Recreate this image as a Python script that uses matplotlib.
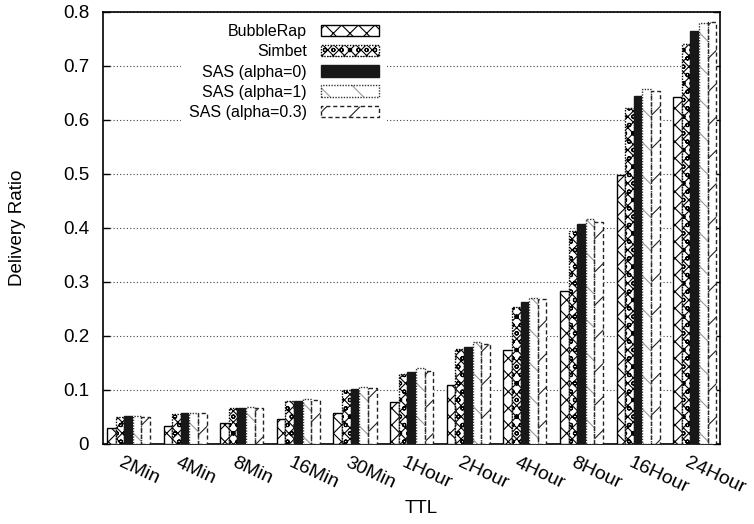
import numpy as np
import matplotlib.pyplot as plt
from matplotlib.transforms import ScaledTranslation

plt.rcParams['font.family'] = ['Liberation Sans', 'DejaVu Sans']
plt.rcParams['hatch.linewidth'] = 0.8

### data
ttl = ['2Min', '4Min', '8Min', '16Min', '30Min', '1Hour',
       '2Hour', '4Hour', '8Hour', '16Hour', '24Hour']
bubblerap = [0.030, 0.033, 0.038, 0.046, 0.058, 0.078, 0.110, 0.174, 0.283, 0.498, 0.642]
simbet    = [0.050, 0.056, 0.066, 0.080, 0.100, 0.130, 0.176, 0.253, 0.394, 0.623, 0.741]
sas_a0    = [0.052, 0.058, 0.067, 0.080, 0.101, 0.134, 0.180, 0.263, 0.407, 0.644, 0.765]
sas_a1    = [0.052, 0.058, 0.069, 0.084, 0.105, 0.140, 0.189, 0.271, 0.416, 0.657, 0.780]
sas_a03   = [0.050, 0.057, 0.066, 0.081, 0.103, 0.136, 0.186, 0.268, 0.412, 0.654, 0.781]

x = np.arange(len(ttl))
w = 0.152

fig = plt.figure(figsize=(7.54, 5.24), dpi=100)
ax = fig.add_axes([0.1366, 0.1527, 0.8186, 0.8244])

b1 = ax.bar(x - 2*w, bubblerap, w, facecolor='white', edgecolor='black',
            hatch='xx', lw=1.0, zorder=3)
b2 = ax.bar(x - w, simbet, w, facecolor='white', edgecolor='black',
            hatch='xxxoo', lw=1.0, linestyle=(0, (1, 1)), zorder=3)
b3 = ax.bar(x, sas_a0, w, facecolor='#181818', edgecolor='#181818',
            lw=1.0, zorder=3)
# gray hatch underneath, dotted dark edge on top
b4a = ax.bar(x + w, sas_a1, w, facecolor='white', edgecolor='#999999',
             hatch='\\', lw=0, zorder=3)
b4b = ax.bar(x + w, sas_a1, w, facecolor='none', edgecolor='#333333',
             lw=1.0, linestyle=(0, (1, 1)), zorder=4)
b5 = ax.bar(x + 2*w, sas_a03, w, facecolor='white', edgecolor='#222222',
            hatch='/', lw=1.0, linestyle=(0, (3, 2)), zorder=3)

ax.set_xlim(-0.45, 10.45)
ax.set_ylim(0, 0.8)
ax.set_yticks(np.arange(0, 0.81, 0.1))
ax.set_yticklabels(['0', '0.1', '0.2', '0.3', '0.4', '0.5', '0.6', '0.7', '0.8'])
ax.yaxis.grid(True, linestyle=(0, (1, 2)), color='#444444', lw=0.8)
ax.set_axisbelow(True)

for s in ax.spines.values():
    s.set_linewidth(1.2)

ax.tick_params(axis='y', direction='in', right=True, length=5, width=1.0,
               labelsize=13.5, pad=10)
ax.tick_params(axis='x', length=0, labelsize=14, pad=13)
ax.set_xticks(x)
ax.set_xticklabels(ttl, rotation=-25, rotation_mode='anchor', ha='left', va='center')
for lab in ax.get_xticklabels():
    lab.set_transform(lab.get_transform() + ScaledTranslation(-0.09, 0, fig.dpi_scale_trans))

ax.set_ylabel('Delivery Ratio', fontsize=13.5)
ax.yaxis.set_label_coords(-0.125, 0.5)
ax.set_xlabel('TTL', fontsize=13.5)
ax.xaxis.set_label_coords(0.515, -0.13)

leg = ax.legend([b1, b2, b3, (b4a, b4b), b5],
                ['BubbleRap', 'Simbet', 'SAS (alpha=0)', 'SAS (alpha=1)', 'SAS (alpha=0.3)'],
                loc='upper right', bbox_to_anchor=(0.46, 0.99), markerfirst=False,
                fontsize=11.5, handlelength=3.6, handleheight=0.7, handletextpad=0.9,
                labelspacing=0.32, borderpad=0.5, borderaxespad=0,
                frameon=True, fancybox=False, framealpha=1,
                facecolor='white', edgecolor='none')
leg.set_zorder(5)

fig.savefig('out.png', dpi=100)
